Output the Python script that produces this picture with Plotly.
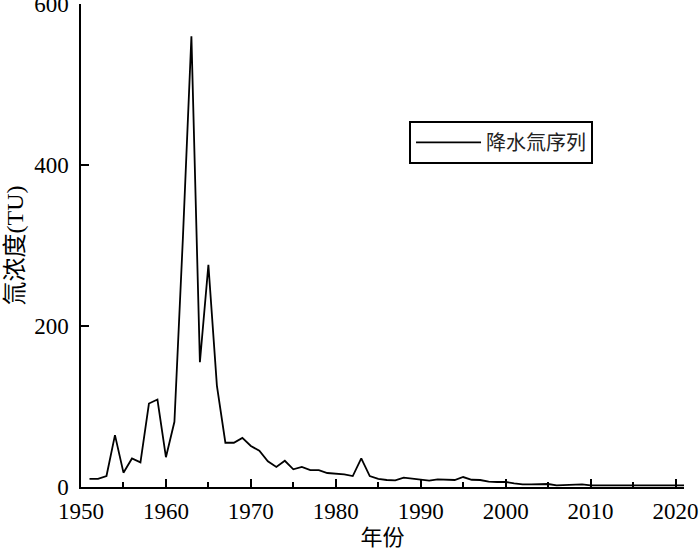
import plotly.graph_objects as go

# 降水氚序列（TU），按年份
years = list(range(1951, 2022))
tritium = [
    10, 10, 13.6, 64.5, 17.8, 35.5, 30.6, 103.7, 108.7, 37,
    81, 310, 560, 155, 276, 126, 55, 55, 61, 51,
    45, 32, 25, 32.6, 22, 25, 21, 21, 17.4, 17,
    15.7, 13.6, 35.5, 13.6, 10, 8.7, 8.3, 11.6, 10.7, 9.5,
    8, 9.5, 8.7, 8.7, 12.4, 9, 8.7, 6.6, 6.2, 6.2,
    4.5, 3.3, 3.3, 3.7, 3.7, 2, 2.5, 2.5, 3.3, 2,
    2, 2, 2, 2, 2, 2, 2, 2, 2, 2, 2,
]

x_ticks = list(range(1950, 2021, 10))
y_ticks = [0, 200, 400, 600]

FONT = "Times New Roman, Noto Sans CJK SC"

fig = go.Figure(go.Scatter(
    x=years,
    y=tritium,
    mode="lines",
    name="降水氚序列",
    line=dict(color="black", width=1.8),
))

fig.update_layout(
    width=700,
    height=551,
    margin=dict(l=81, r=16, t=4, b=64),
    paper_bgcolor="white",
    plot_bgcolor="white",
    font=dict(family=FONT, size=21, color="black"),
    showlegend=True,
    legend=dict(
        x=0.544, y=0.758, xanchor="left", yanchor="top",
        bordercolor="black", borderwidth=2,
        font=dict(family=FONT, size=20, color="#222"),
        bgcolor="white",
        itemwidth=65,
    ),
)

fig.update_xaxes(
    range=[1950, 2021],
    tickvals=x_ticks,
    ticks="inside", ticklen=8, tickwidth=1.5, tickcolor="black",
    minor=dict(dtick=5, tick0=1950, ticks="inside", ticklen=5,
               tickwidth=1.5, tickcolor="black"),
    showline=True, linecolor="black", linewidth=1.5,
    showgrid=False, zeroline=False,
    tickfont=dict(family="serif", size=23),
    ticklabelstandoff=3,
    ticklabeloverflow="allow",
    automargin=False,
    title=dict(text="年份", font=dict(size=22), standoff=6),
)

fig.update_yaxes(
    range=[0, 600],
    tickvals=y_ticks,
    ticks="inside", ticklen=8, tickwidth=1.5, tickcolor="black",
    showline=True, linecolor="black", linewidth=1.5,
    showgrid=False, zeroline=False,
    tickfont=dict(family="Times New Roman", size=23),
    ticklabelstandoff=6,
    ticklabeloverflow="allow",
    automargin=False,
    title=dict(text="氚浓度(TU)", font=dict(size=24), standoff=4),
)

# 去掉页面默认的 8px 边距
fig.write_html(
    "out.html",
    config={"displayModeBar": False},
    post_script="document.body.style.margin='0';",
)
